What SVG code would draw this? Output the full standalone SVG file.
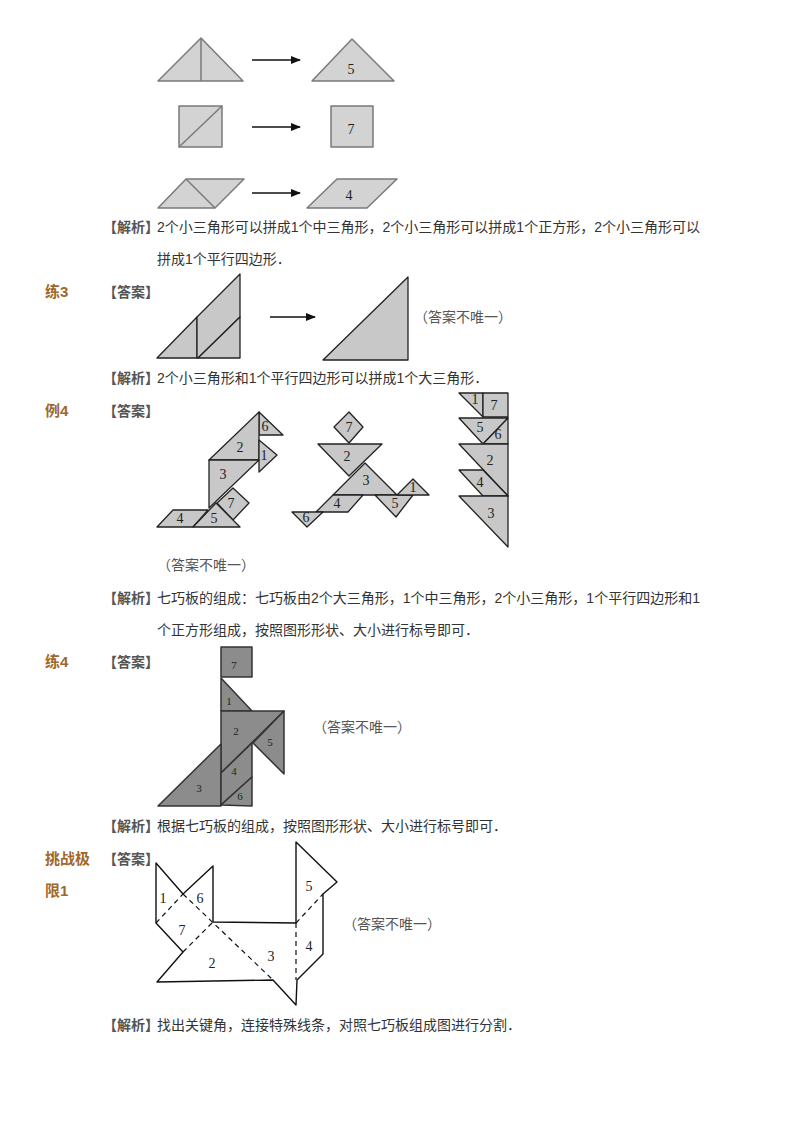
<svg xmlns="http://www.w3.org/2000/svg" width="800" height="1132" viewBox="0 0 800 1132">
<defs>
<style>
.p{fill:#d3d3d3;stroke:#7a7a7a;stroke-width:1.5;stroke-linejoin:round}
.q{fill:#c8c8c8;stroke:#222;stroke-width:1.3;stroke-linejoin:round}
.d{fill:#8c8c8c;stroke:#333;stroke-width:1.5;stroke-linejoin:round}
.w{fill:none;stroke:#111;stroke-width:1.4;stroke-linejoin:round}
.ds{fill:none;stroke:#111;stroke-width:1.2;stroke-dasharray:5,4}
.n{font-family:"Liberation Serif",serif;font-size:14px;fill:#222;text-anchor:middle}
.t{font-family:"Liberation Sans","Noto Sans CJK SC",sans-serif;font-size:14px;fill:#333}
.b{font-family:"Liberation Sans","Noto Sans CJK SC",sans-serif;font-size:14px;fill:#555;font-weight:bold}
.h{font-family:"Liberation Sans","Noto Sans CJK SC",sans-serif;font-size:15px;fill:#a0672a;font-weight:bold}
.g{font-family:"Liberation Sans","Noto Sans CJK SC",sans-serif;font-size:14px;fill:#555}
.ar{stroke:#111;stroke-width:1.5}
</style>
<marker id="ah" markerWidth="10" markerHeight="8" refX="9" refY="4" orient="auto" markerUnits="userSpaceOnUse"><path d="M0,0 L10,4 L0,8 z" fill="#111"/></marker>
</defs>
<g id="top">
<polygon class="p" points="158,81 201,38 243,81"/><line class="p" x1="201" y1="38" x2="201" y2="81"/>
<polygon class="p" points="312,81 352,39 394,81"/><text class="n" x="351" y="74">5</text>
<rect class="p" x="179" y="106" width="43" height="41"/><line class="p" x1="179" y1="147" x2="222" y2="106"/>
<rect class="p" x="331" y="106" width="42" height="41"/><text class="n" x="351" y="134">7</text>
<polygon class="p" points="158,208 186,179 244,179 215,208"/><line class="p" x1="186" y1="179" x2="215" y2="208"/>
<polygon class="p" points="307,208 337,179 397,179 367,208"/><text class="n" x="349" y="200">4</text>
</g>
<g id="connectors">
<line class="ar" x1="252" y1="60" x2="300" y2="60" marker-end="url(#ah)"/>
<line class="ar" x1="252" y1="127" x2="300" y2="127" marker-end="url(#ah)"/>
<line class="ar" x1="252" y1="193" x2="300" y2="193" marker-end="url(#ah)"/>
<line class="ar" x1="270" y1="317" x2="315" y2="317" marker-end="url(#ah)"/>
</g>
<text class="b" x="103" y="232">【解析】</text>
<text class="t" x="157" y="232">2个小三角形可以拼成1个中三角形，2个小三角形可以拼成1个正方形，2个小三角形可以</text>
<text class="t" x="157" y="264">拼成1个平行四边形．</text>

<text class="h" x="45" y="297">练3</text>
<text class="b" x="103" y="297">【答案】</text>
<g id="l3">
<polygon class="q" points="157,358 197,317 197,358"/>
<polygon class="q" points="197,317 240,274 240,317 198,358 197,358"/>
<polygon class="q" points="198,358 240,317 240,358"/>
<polygon class="q" points="323,360 408,277 408,360"/>
</g>
<text class="g" x="414" y="322">（答案不唯一）</text>
<text class="b" x="103" y="383">【解析】</text>
<text class="t" x="157" y="383">2个小三角形和1个平行四边形可以拼成1个大三角形．</text>

<text class="h" x="45" y="416">例4</text>
<text class="b" x="103" y="416">【答案】</text>
<g id="f1">
<polygon class="q" points="259,412 259,435 283,435"/><text class="n" x="265" y="431">6</text>
<polygon class="q" points="209,460 259,412 259,460"/><text class="n" x="240" y="452">2</text>
<polygon class="q" points="259,440 277,455 259,472"/><text class="n" x="264" y="460">1</text>
<polygon class="q" points="209,460 259,460 209,508"/><text class="n" x="223" y="479">3</text>
<polygon class="q" points="217,503 233,488 249,503 233,520"/><text class="n" x="231" y="508">7</text>
<polygon class="q" points="157,527 173,510 208,510 193,527"/><text class="n" x="180" y="523">4</text>
<polygon class="q" points="193,527 216,503 240,527"/><text class="n" x="214" y="523">5</text>
</g>
<g id="f2">
<polygon class="q" points="349,412 363,427 349,443 334,427"/><text class="n" x="349" y="432">7</text>
<polygon class="q" points="318,444 382,444 349,476"/><text class="n" x="347" y="461">2</text>
<polygon class="q" points="333,495 365,463 397,495"/><text class="n" x="366" y="485">3</text>
<polygon class="q" points="316,512 333,495 363,495 348,512"/><text class="n" x="337" y="508">4</text>
<polygon class="q" points="292,512 323,512 307,527"/><text class="n" x="306" y="522">6</text>
<polygon class="q" points="375,495 413,495 396,517"/><text class="n" x="395" y="508">5</text>
<polygon class="q" points="397,495 413,479 429,495"/><text class="n" x="413" y="492">1</text>
</g>
<g id="f3">
<polygon class="q" points="459,393 483,393 483,417"/><text class="n" x="475" y="404">1</text>
<rect class="q" x="483" y="393" width="25" height="24"/><text class="n" x="494" y="410">7</text>
<polygon class="q" points="459,418 508,418 483,444"/><text class="n" x="480" y="432">5</text>
<polygon class="q" points="483,444 508,418 508,444"/><text class="n" x="498" y="439">6</text>
<polygon class="q" points="459,444 508,444 508,496"/><text class="n" x="490" y="465">2</text>
<polygon class="q" points="459,470 483,470 508,496 483,496"/><text class="n" x="480" y="487">4</text>
<polygon class="q" points="459,496 508,496 508,547"/><text class="n" x="491" y="518">3</text>
</g>
<text class="g" x="157" y="570">（答案不唯一）</text>
<text class="b" x="103" y="603">【解析】</text>
<text class="t" x="157" y="603">七巧板的组成：七巧板由2个大三角形，1个中三角形，2个小三角形，1个平行四边形和1</text>
<text class="t" x="157" y="635">个正方形组成，按照图形形状、大小进行标号即可．</text>

<text class="h" x="45" y="667">练4</text>
<text class="b" x="103" y="667">【答案】</text>
<g id="l4">
<rect class="d" x="221" y="647" width="31" height="30"/><text class="n" x="234" y="669" style="font-size:11px">7</text>
<polygon class="d" points="221,678 252,711 221,711"/><text class="n" x="229" y="705" style="font-size:11px">1</text>
<polygon class="d" points="221,711 284,711 221,773"/><text class="n" x="236" y="735" style="font-size:11px">2</text>
<polygon class="d" points="253,743 284,711 284,774"/><text class="n" x="270" y="746" style="font-size:11px">5</text>
<polygon class="d" points="221,744 158,806 221,806"/><text class="n" x="199" y="792" style="font-size:11px">3</text>
<polygon class="d" points="221,773 252,743 252,777 221,805"/><text class="n" x="234" y="775" style="font-size:11px">4</text>
<polygon class="d" points="221,805 252,777 252,806"/><text class="n" x="240" y="800" style="font-size:11px">6</text>
</g>
<text class="g" x="313" y="732">（答案不唯一）</text>
<text class="b" x="103" y="831">【解析】</text>
<text class="t" x="157" y="831">根据七巧板的组成，按照图形形状、大小进行标号即可．</text>

<text class="h" x="45" y="864">挑战极</text>
<text class="h" x="45" y="896">限1</text>
<text class="b" x="103" y="864">【答案】</text>
<g id="cat">
<polygon class="w" points="156,863 183,894 213,866 213,922 296,923 296,842 337,882 323,894 323,954 297,980 296,1005 273,980 157,982 183,952 156,923"/>
<path class="ds" d="M156,923 L183,894 M183,894 L273,980 M183,952 L213,922 M296,923 L323,894 M296,923 L296,980"/>
<text class="n" x="163" y="903">1</text><text class="n" x="200" y="903">6</text><text class="n" x="182" y="935">7</text>
<text class="n" x="212" y="968">2</text><text class="n" x="271" y="961">3</text><text class="n" x="309" y="891">5</text><text class="n" x="309" y="951">4</text>
</g>
<text class="g" x="343" y="929">（答案不唯一）</text>
<text class="b" x="103" y="1030">【解析】</text>
<text class="t" x="157" y="1030">找出关键角，连接特殊线条，对照七巧板组成图进行分割．</text>
</svg>
